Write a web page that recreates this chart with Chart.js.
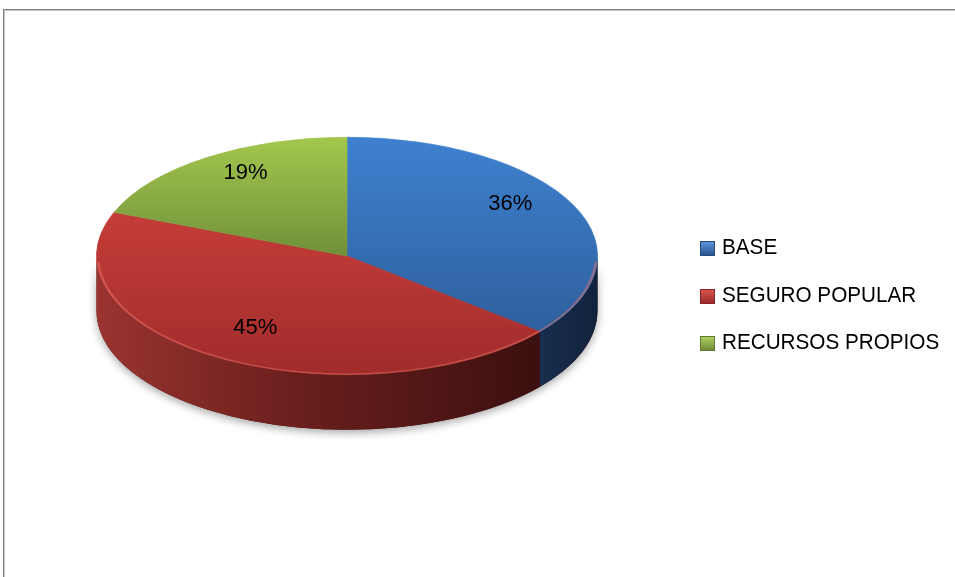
<!DOCTYPE html>
<html>
<head>
<meta charset="utf-8">
<script src="https://cdn.jsdelivr.net/npm/chart.js@4.4.1/dist/chart.umd.min.js"></script>
<style>
  body { margin: 0; background: #fff; }
  #wrap { position: relative; width: 955px; height: 577px; overflow: hidden; }
  #marco { position: absolute; left: 3px; top: 9px; width: 1000px; height: 1000px;
           border-top: 1px solid #7f7f7f; border-left: 1px solid #7f7f7f;
           box-shadow: inset 1px 1px 0 #c6c6c6; }
  #grafica { position: absolute; left: 0; top: 0; }
  #leyenda { position: absolute; left: 700px; top: 0; font-family: "Liberation Sans", Arial, sans-serif;
             font-size: 22px; color: #000; }
  .item { position: absolute; left: 0; height: 26px; line-height: 26px; white-space: nowrap; }
  .cuadro { position: absolute; left: 0; top: 5px; width: 13px; height: 13px; border: 1px solid; }
  .texto { position: absolute; left: 22px; top: -2px; transform: scaleX(0.94); transform-origin: left center; }
</style>
</head>
<body>
<div id="wrap">
  <div id="marco"></div>
  <canvas id="grafica" width="955" height="577"></canvas>
  <div id="leyenda"></div>
</div>
<script>
const etiquetas = ['BASE', 'SEGURO POPULAR', 'RECURSOS PROPIOS'];
const valores = [36, 45, 19];

// colores de la cara de arriba (claro -> oscuro) y del costado
const coloresArriba = [['#3e81d0', '#2b5892'], ['#d6443f', '#a02c2b'], ['#a3c74d', '#71903a']];
const coloresLado = [
  [[0, '#24426a'], [0.85, '#1a3253'], [1, '#11223b']],
  [[0, '#9a3430'], [0.4, '#6a1f1d'], [0.9, '#3a0f0f'], [1, '#330d0d']],
  [[0, '#5f7a2c'], [1, '#3f521d']]
];
const coloresLeyenda = [['#5a93d8', '#2b5590', '#27497a'], ['#d8524d', '#9c2b2a', '#862523'], ['#b0cf62', '#6f8c36', '#5f7a2e']];

const achatar = 119 / 251;   // alto / ancho de la elipse
const grosor = 55;           // alto del costado en pixeles
const total = valores.reduce((a, b) => a + b, 0);

function colorArriba(context) {
  const chart = context.chart;
  const area = chart.chartArea;
  const par = coloresArriba[context.dataIndex];
  if (!area) return par[0];
  const g = chart.ctx.createLinearGradient(0, area.top, 0, context.dataIndex == 2 ? (area.top + area.bottom) / 2 : area.bottom);
  g.addColorStop(0, par[0]);
  g.addColorStop(1, par[1]);
  return g;
}

const pastel3d = {
  id: 'pastel3d',
  beforeDatasetsDraw(chart) {
    const ctx = chart.ctx;
    const arcos = chart.getDatasetMeta(0).data;
    const cx = arcos[0].x, cy = arcos[0].y, r = arcos[0].outerRadius;
    const d = grosor / achatar;
    ctx.save();
    ctx.translate(0, cy * (1 - achatar));
    ctx.scale(1, achatar);

    // sombra debajo
    ctx.save();
    ctx.shadowColor = 'rgba(0,0,0,0.35)';
    ctx.shadowBlur = 8;
    ctx.shadowOffsetY = 3;
    ctx.beginPath();
    ctx.arc(cx, cy, r, 0, Math.PI);
    ctx.arc(cx, cy + d, r, Math.PI, 0, true);
    ctx.closePath();
    ctx.fillStyle = '#4a1414';
    ctx.fill();
    ctx.restore();

    // costados visibles (mitad de enfrente)
    arcos.forEach((a, i) => {
      [0, 2 * Math.PI].forEach(k => {
        const lo = Math.max(a.startAngle, k);
        const hi = Math.min(a.endAngle, k + Math.PI);
        if (hi <= lo) return;
        const g = ctx.createLinearGradient(cx - r, 0, cx + r, 0);
        coloresLado[i].forEach(s => g.addColorStop(s[0], s[1]));
        ctx.beginPath();
        ctx.arc(cx, cy, r, lo, hi);
        ctx.arc(cx, cy + d, r, hi, lo, true);
        ctx.closePath();
        ctx.fillStyle = g;
        ctx.fill();
      });
    });
  },
  afterDatasetsDraw(chart) {
    const ctx = chart.ctx;
    const arcos = chart.getDatasetMeta(0).data;
    const cx = arcos[0].x, cy = arcos[0].y, r = arcos[0].outerRadius;

    // brillo en el borde de enfrente
    ctx.beginPath();
    ctx.arc(cx, cy, r - 1.5, 0.05, Math.PI - 0.05);
    ctx.strokeStyle = 'rgba(240,120,110,0.45)';
    ctx.lineWidth = 2.5;
    ctx.stroke();
    ctx.restore();

    // porcentajes
    ctx.save();
    ctx.font = '22px "Liberation Sans", Arial, sans-serif';
    ctx.textAlign = 'center';
    ctx.textBaseline = 'middle';
    ctx.fillStyle = '#000';
    arcos.forEach((a, i) => {
      const m = (a.startAngle + a.endAngle) / 2;
      const f = 0.72;
      const sy = Math.sin(m);
      const x = cx + Math.cos(m) * r * f;
      const y = cy - 18 + sy * r * f * (sy < 0 ? 110 : 145) / 251;
      ctx.fillText(Math.round(valores[i] / total * 100) + '%', x, y);
    });
    ctx.restore();
  }
};

new Chart(document.getElementById('grafica'), {
  type: 'pie',
  data: {
    labels: etiquetas,
    datasets: [{
      data: valores,
      backgroundColor: colorArriba,
      borderColor: colorArriba,
      borderWidth: 1,
      hoverOffset: 0
    }]
  },
  options: {
    responsive: false,
    animation: false,
    events: [],
    layout: { padding: { left: 96, right: 357, top: 5, bottom: 70 } },
    plugins: { legend: { display: false }, tooltip: { enabled: false } }
  },
  plugins: [pastel3d]
});

// leyenda
const leyenda = document.getElementById('leyenda');
for (let i = 0; i < etiquetas.length; i++) {
  const c = coloresLeyenda[i];
  leyenda.innerHTML +=
    `<div class="item" style="top:${236 + i * 47.5}px">
       <div class="cuadro" style="background:linear-gradient(${c[0]}, ${c[1]});border-color:${c[2]}"></div>
       <div class="texto">${etiquetas[i]}</div>
     </div>`;
}
</script>
</body>
</html>
